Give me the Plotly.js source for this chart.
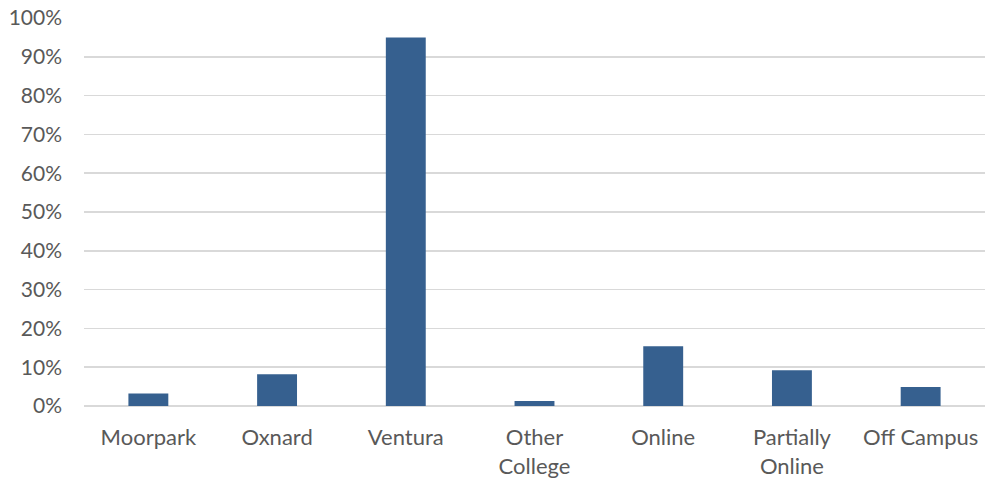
<!DOCTYPE html>
<html>
<head>
<meta charset="utf-8">
<script src="https://cdn.plot.ly/plotly-3.0.1.min.js"></script>
<style>html,body{margin:0;padding:0;background:#fff;}#chart{width:985px;height:481px;}</style>
</head>
<body>
<div id="chart"></div>
<script>
const categories = ["Moorpark", "Oxnard", "Ventura", "Other<br>College", "Online", "Partially<br>Online", "Off Campus"];
const values = [0.032, 0.082, 0.950, 0.013, 0.154, 0.092, 0.049];
const yTicks = [0, 0.1, 0.2, 0.3, 0.4, 0.5, 0.6, 0.7, 0.8, 0.9, 1.0];
const yTickLabels = ["0%", "10%", "20%", "30%", "40%", "50%", "60%", "70%", "80%", "90%", "100%"];

const trace = {
  type: "bar",
  x: categories,
  y: values,
  marker: {color: "#36608f", line: {width: 0}},
  width: 0.31,
  hoverinfo: "x+y"
};

const layout = {
  width: 985,
  height: 481,
  margin: {l: 84, r: 0, t: 18, b: 75},
  paper_bgcolor: "#ffffff",
  plot_bgcolor: "#ffffff",
  showlegend: false,
  font: {family: "Lato, 'Liberation Sans', sans-serif", size: 21, color: "#595959"},
  xaxis: {
    type: "category",
    showgrid: false,
    zeroline: false,
    showline: false,
    ticks: "",
    tickfont: {size: 22, color: "#595959"},
    ticklabelstandoff: 16
  },
  yaxis: {
    range: [0, 1.0],
    tickvals: yTicks,
    ticktext: yTickLabels,
    showgrid: true,
    gridcolor: "#d9d9d9",
    gridwidth: 1.5,
    zeroline: true,
    zerolinecolor: "#d9d9d9",
    zerolinewidth: 1.5,
    showline: false,
    ticks: "",
    ticklabelstandoff: 21,
    tickfont: {size: 21, color: "#595959"}
  }
};

Plotly.newPlot("chart", [trace], layout, {displayModeBar: false, staticPlot: true});
</script>
</body>
</html>
